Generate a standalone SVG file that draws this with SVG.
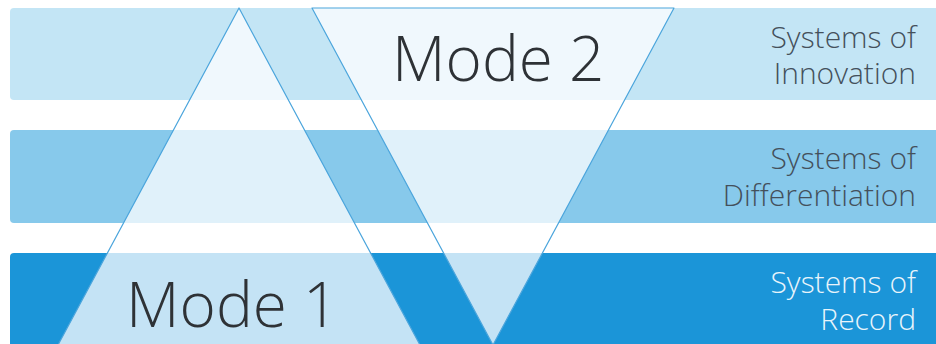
<svg xmlns="http://www.w3.org/2000/svg" width="936" height="344" viewBox="0 0 936 344">
  <style>
    .label { font-family: "Open Sans", "Liberation Sans", sans-serif; font-weight: 300; }
    .mode { font-size: 62px; fill: #2e3236; }
    .sys { font-size: 30px; text-anchor: end; fill: #44505b; }
    .sys-light { fill: #e8f4fb; }
    .tri { fill: #ffffff; fill-opacity: 0.74; stroke: #4ba5dc; stroke-width: 1.2; stroke-linejoin: round; }
  </style>
  <rect width="936" height="344" fill="#ffffff"/>
  <g id="band-innovation">
    <rect x="10" y="8" width="940" height="92" rx="4" fill="#c3e5f5"/>
  </g>
  <g id="band-differentiation">
    <rect x="10" y="130" width="940" height="93" rx="4" fill="#87c9eb"/>
  </g>
  <g id="band-record">
    <rect x="10" y="253" width="940" height="100" rx="4" fill="#1b95d8"/>
  </g>
  <g id="mode1">
    <polygon class="tri" points="239,8 420,345 58,345"/>
  </g>
  <g id="mode2">
    <polygon class="tri" points="312,8 674,8 493,345"/>
  </g>
  <g id="labels">
    <text class="label mode" x="392" y="81">Mode 2</text>
    <text class="label mode" x="126" y="327">Mode 1</text>
    <text class="label sys" x="916" y="48">Systems of</text>
    <text class="label sys" x="916" y="84">Innovation</text>
    <text class="label sys" x="916" y="169">Systems of</text>
    <text class="label sys" x="916" y="206">Differentiation</text>
    <text class="label sys sys-light" x="916" y="293">Systems of</text>
    <text class="label sys sys-light" x="916" y="330">Record</text>
  </g>
</svg>
